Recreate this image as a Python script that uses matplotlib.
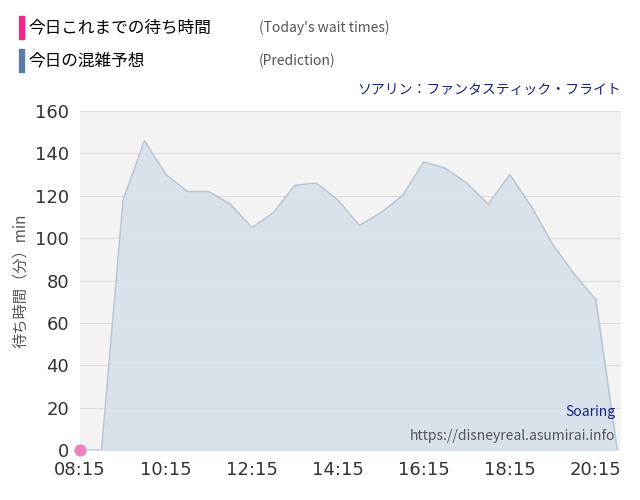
import numpy as np
import matplotlib.pyplot as plt

plt.rcParams['font.family'] = ['Noto Sans CJK JP', 'DejaVu Sans']

# minutes after 08:15
pred_t = [0, 30, 60, 90, 120, 150, 180, 210, 240, 270, 300, 330, 360, 390, 420, 450,
          480, 510, 540, 570, 600, 630, 660, 690, 720, 750]
pred_v = [0, 0, 118, 146, 130, 122, 122, 116, 105, 112, 125, 126, 118, 106, 112, 120,
          136, 133, 126, 116, 130, 115, 97, 83, 71, 0]
actual_t = [0]
actual_v = [0]
tick_labels = ['08:15', '10:15', '12:15', '14:15', '16:15', '18:15', '20:15']

fig = plt.figure(figsize=(6.4, 5.0), dpi=100)
ax = fig.add_axes([0.125, 0.1, 0.845, 0.678])
ax.set_facecolor('#f3f3f3')
ax.plot(pred_t, pred_v, color='#b8c4d0', lw=1)
ax.fill_between(pred_t, pred_v, color='#d5e0ea', alpha=0.85)
ax.scatter(actual_t, actual_v, s=60, color='#f080c0', zorder=5, clip_on=False)
ax.set_xlim(0, 755)
ax.set_ylim(0, 160)
ax.set_yticks(range(0, 161, 20))
ax.set_xticks(range(0, 721, 120))
ax.set_xticklabels(tick_labels, family='DejaVu Sans')
ax.set_yticklabels([str(v) for v in range(0, 161, 20)], family='DejaVu Sans')
ax.tick_params(labelsize=13, length=0, colors='#333333')
ax.tick_params(axis='x', pad=8)
ax.tick_params(axis='y', pad=8)
ax.grid(axis='y', color='#dddddd', lw=0.8)
ax.set_axisbelow(True)
for s in ax.spines.values():
    s.set_visible(False)
ax.set_ylabel('待ち時間（分）min', fontsize=11, color='#555555')

ax.text(0.99, 0.1, 'Soaring', transform=ax.transAxes, ha='right', fontsize=10, color='#1a237e')
ax.text(0.99, 0.03, 'https://disneyreal.asumirai.info', transform=ax.transAxes, ha='right',
        fontsize=10, color='#555555')

fig.patches.append(plt.Rectangle((0.03, 0.922), 0.007, 0.045, transform=fig.transFigure, color='#f0288c'))
fig.patches.append(plt.Rectangle((0.03, 0.857), 0.007, 0.045, transform=fig.transFigure, color='#5c7ca8'))
fig.text(0.045, 0.944, '今日これまでの待ち時間', fontsize=12, va='center')
fig.text(0.045, 0.879, '今日の混雑予想', fontsize=12, va='center')
fig.text(0.405, 0.944, '(Today\'s wait times)', fontsize=10, va='center', color='#555555')
fig.text(0.405, 0.879, '(Prediction)', fontsize=10, va='center', color='#555555')
fig.text(0.97, 0.82, 'ソアリン：ファンタスティック・フライト', fontsize=10, ha='right', va='center', color='#1a237e')

fig.savefig('out.png')
